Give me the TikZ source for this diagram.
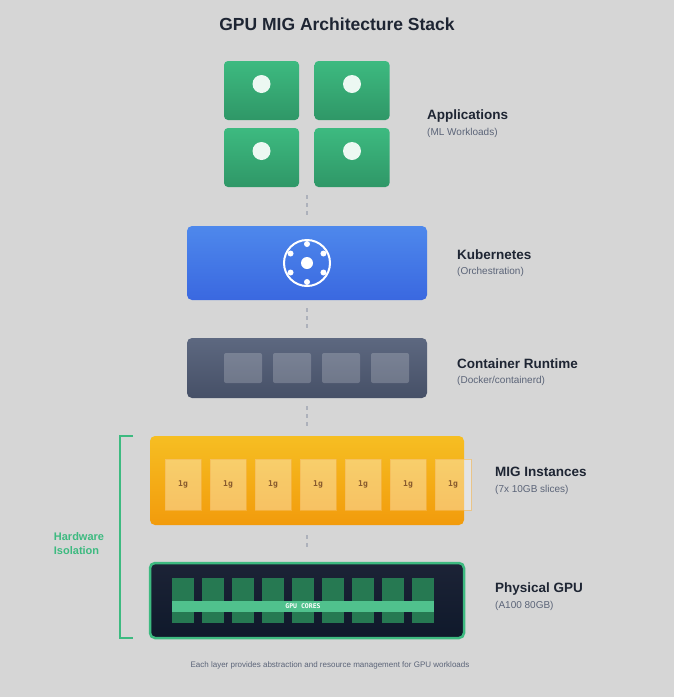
\documentclass[tikz,border=0pt]{standalone}
\usepackage{fontspec}
\setmainfont{Liberation Sans}
\newfontfamily\monofont{DejaVu Sans Mono}
\usetikzlibrary{positioning}
\definecolor{bgcol}{HTML}{D6D6D6}
\definecolor{inkcol}{HTML}{1E2533}
\definecolor{subcol}{HTML}{5B6478}
\definecolor{appA}{HTML}{3DBA80}
\definecolor{appB}{HTML}{2F9767}
\definecolor{kubeA}{HTML}{4E88EC}
\definecolor{kubeB}{HTML}{3A68E0}
\definecolor{rtA}{HTML}{5D6880}
\definecolor{rtB}{HTML}{465067}
\definecolor{migA}{HTML}{F6BE22}
\definecolor{migB}{HTML}{F29B0C}
\definecolor{gpuA}{HTML}{1C2336}
\definecolor{gpuB}{HTML}{0F192B}
\definecolor{isocol}{HTML}{3DBA80}
\begin{document}
\begin{tikzpicture}[x=1pt,y=-1pt]
  \tikzstyle{app} = [rectangle, rounded corners=4pt, minimum width=75pt, minimum height=59pt, top color=appA, bottom color=appB, draw=none]
  \tikzstyle{layer} = [rectangle, rounded corners=5pt, draw=none, inner sep=0pt]
  \tikzstyle{title} = [anchor=west, font=\bfseries\fontsize{13.5}{15}\selectfont, text=inkcol, inner sep=0pt]
  \tikzstyle{sub} = [anchor=west, font=\fontsize{10}{11}\selectfont, text=subcol, inner sep=0pt]
  \tikzstyle{link} = [draw=subcol!50, line width=1.6pt, dash pattern=on 4pt off 4pt]
  \tikzstyle{slice} = [rectangle, fill=white, fill opacity=0.35, draw=migB!70, draw opacity=0.6, minimum width=36pt, minimum height=51pt, inner sep=0pt, text opacity=1, text=brown!70!black, font=\monofont\bfseries\fontsize{8}{9}\selectfont]
  \tikzstyle{core} = [rectangle, fill=appB!80!black, minimum width=22pt, minimum height=45pt, inner sep=0pt]

  \useasboundingbox [fill=bgcol] (0,0) rectangle (674,697);
  \node (head) at (337,24) [font=\bfseries\fontsize{17.5}{20}\selectfont, text=inkcol] {GPU MIG Architecture Stack};

  % applications
  \node (app-a) at (261.5,90.5) [app] {};
  \node (app-b) at (352,90.5) [app] {};
  \node (app-c) at (261.5,157.5) [app] {};
  \node (app-d) at (352,157.5) [app] {};
  \foreach \n in {a,b,c,d}
    \fill [white!90!appA] (app-\n.center) ++(0,-6.5) circle (9pt);
  \node (app-t) at (427,116) [title] {Applications};
  \node (app-s) at (427,133) [sub] {(ML Workloads)};

  % kubernetes
  \node (kube) at (307,263) [layer, minimum width=240pt, minimum height=74pt, top color=kubeA, bottom color=kubeB] {};
  \draw [white, line width=2pt] (kube.center) circle (23pt);
  \fill [white] (kube.center) circle (6pt);
  \foreach \a in {30,90,150,210,270,330}
    \fill [white] (kube.center) ++(\a:19pt) circle (3pt);
  \node (kube-t) at (457,255) [title] {Kubernetes};
  \node (kube-s) at (457,272) [sub] {(Orchestration)};

  % container runtime
  \node (rt) at (307,368) [layer, minimum width=240pt, minimum height=60pt, top color=rtA, bottom color=rtB] {};
  \foreach \x in {243,292,341,390}
    \fill [white, opacity=0.2, rounded corners=2pt] (\x-19,353) rectangle (\x+19,383);
  \node (rt-t) at (457,364) [title] {Container Runtime};
  \node (rt-s) at (457,381) [sub] {(Docker/containerd)};

  % mig instances
  \node (mig) at (307,480.5) [layer, minimum width=314pt, minimum height=89pt, top color=migA, bottom color=migB] {};
  \foreach \i in {0,...,6}
    \node (slice-\i) at (183+45*\i,484.5) [slice] {1g};
  \node (mig-t) at (495,472) [title] {MIG Instances};
  \node (mig-s) at (495,490) [sub] {(7x 10GB slices)};

  % physical gpu
  \node (gpu) at (307,600.5) [layer, minimum width=314pt, minimum height=75pt, top color=gpuA, bottom color=gpuB, draw=isocol, line width=2.5pt] {};
  \foreach \i in {0,...,8}
    \node (core-\i) at (183+30*\i,600.5) [core] {};
  \fill [appA!90] (172,601) rectangle (434,612);
  \node (cores) at (303,606.5) [text=white, font=\monofont\bfseries\fontsize{6.5}{7}\selectfont] {GPU CORES};
  \node (gpu-t) at (495,589) [title] {Physical GPU};
  \node (gpu-s) at (495,606) [sub] {(A100 80GB)};

  % connectors
  \draw [link] ([yshift=-8pt]app-c.south -| kube.north) -- ([yshift=10pt]kube.north);
  \draw [link] ([yshift=-8pt]kube.south) -- ([yshift=8pt]rt.north);
  \draw [link] ([yshift=-8pt]rt.south) -- ([yshift=8pt]mig.north);
  \draw [link] ([yshift=-10pt]mig.south) -- ([yshift=12pt]gpu.north);

  % isolation bracket
  \coordinate (iso-top) at (133,436);
  \coordinate (iso-bot) at (133,638);
  \draw [isocol, line width=2pt] (iso-top) -- ++(-13,0) |- (iso-bot);
  \node (iso) at (79,544) [text=isocol, align=left, font=\bfseries\fontsize{11}{14}\selectfont] {Hardware\\Isolation};

  \node (foot) at (330,665) [text=subcol, font=\fontsize{8}{9}\selectfont] {Each layer provides abstraction and resource management for GPU workloads};
\end{tikzpicture}
\end{document}
